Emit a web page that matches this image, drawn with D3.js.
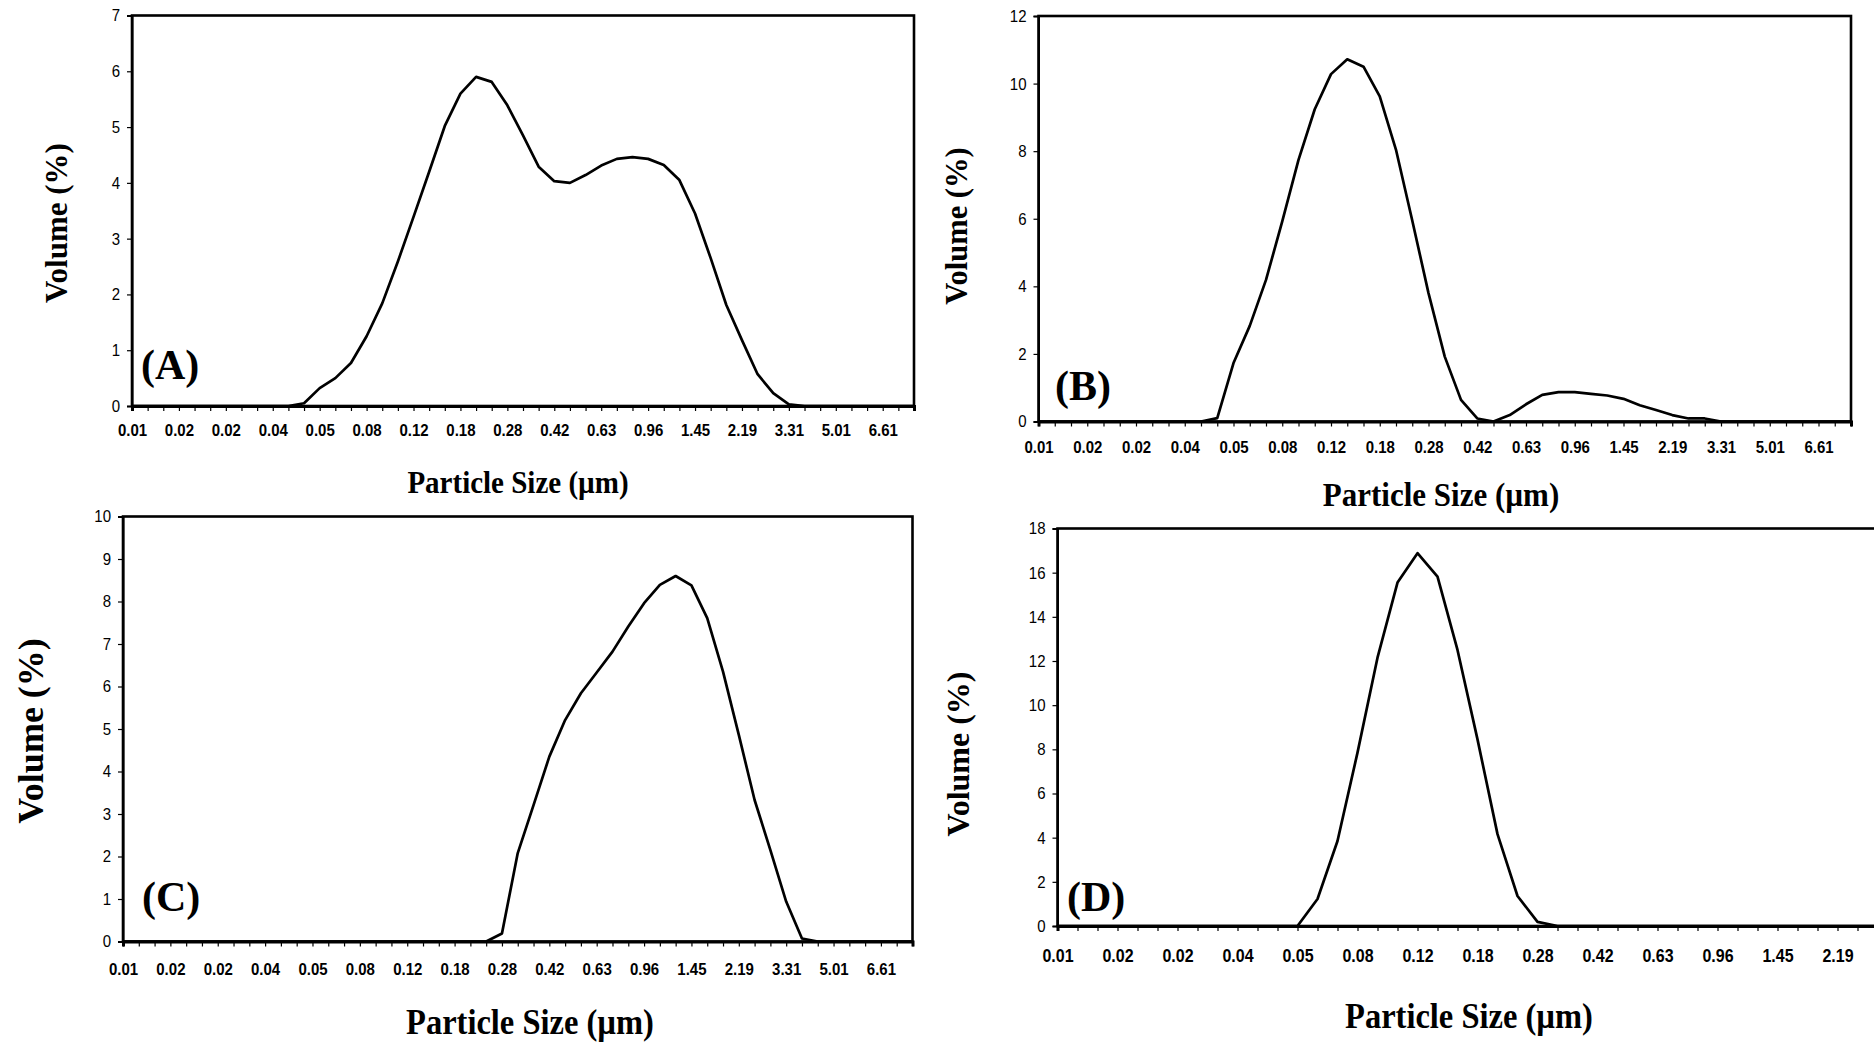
<!DOCTYPE html>
<html>
<head>
<meta charset="utf-8">
<script src="https://cdn.jsdelivr.net/npm/d3@7"></script>
<style>
  html, body { margin: 0; padding: 0; background: #fff; overflow: hidden; }
  .tick text { font-family: "Liberation Sans", Arial, sans-serif; fill: #000; }
  .x-axis .tick text { font-weight: bold; }
  .tick line { stroke: #000; stroke-width: 1.2; }
  .title { font-family: "Liberation Serif", "Times New Roman", serif; font-weight: bold; fill: #000; }
</style>
</head>
<body>
<script>
// labels printed under every third category
const tickLabels = ["0.01", "0.02", "0.02", "0.04", "0.05", "0.08", "0.12", "0.18", "0.28",
                    "0.42", "0.63", "0.96", "1.45", "2.19", "3.31", "5.01", "6.61"];

// volume (%) for each of the 51 size classes
const volumeA = [0, 0, 0, 0, 0, 0, 0, 0, 0, 0, 0,
                 0.05, 0.32, 0.50, 0.77, 1.25, 1.84, 2.59, 3.39, 4.20, 5.02, 5.60, 5.90, 5.81, 5.39, 4.85, 4.29,
                 4.03, 4.00, 4.14, 4.31, 4.43, 4.46, 4.43, 4.32, 4.05, 3.45, 2.65, 1.81, 1.18, 0.57, 0.23, 0.03,
                 0, 0, 0, 0, 0, 0, 0, 0];
const volumeB = [0, 0, 0, 0, 0, 0, 0, 0, 0, 0, 0,
                 0.10, 1.73, 2.83, 4.19, 5.92, 7.74, 9.24, 10.28, 10.72, 10.50, 9.62, 8.04, 5.95, 3.80, 1.92,
                 0.64, 0.09, 0.00, 0.19, 0.51, 0.79, 0.87, 0.87, 0.82, 0.77, 0.67, 0.48, 0.34, 0.19, 0.09, 0.09,
                 0, 0, 0, 0, 0, 0, 0, 0, 0];
const volumeC = [0, 0, 0, 0, 0, 0, 0, 0, 0, 0, 0, 0, 0, 0, 0, 0, 0, 0, 0, 0, 0, 0, 0, 0,
                 0.19, 2.08, 3.21, 4.35, 5.21, 5.84, 6.33, 6.82, 7.41, 7.96, 8.39, 8.60, 8.38, 7.61, 6.35, 4.86,
                 3.33, 2.15, 0.94, 0.07,
                 0, 0, 0, 0, 0, 0, 0];
const volumeD = [0, 0, 0, 0, 0, 0, 0, 0, 0, 0, 0, 0, 0,
                 1.22, 3.85, 7.85, 12.15, 15.55, 16.88, 15.82, 12.50, 8.45, 4.16, 1.36, 0.19,
                 0, 0, 0, 0, 0, 0, 0, 0, 0, 0, 0, 0, 0, 0, 0, 0, 0, 0, 0, 0, 0, 0, 0, 0, 0, 0];

(function() {
    'use strict';

    let width = 1874;
    let height = 1046;

    let panels = [
        { tag: "(A)", values: volumeA, yMax: 7, yStep: 1,
          left: 132, right: 914, top: 15.5, bottom: 406, xFont: 15, xPad: 13.4,
          xTitle: [518, 493, 29], yTitle: [56, 223, 31], tagAt: [141, 379] },
        { tag: "(B)", values: volumeB, yMax: 12, yStep: 2,
          left: 1038.5, right: 1851, top: 16, bottom: 421.5, xFont: 15, xPad: 14.8,
          xTitle: [1441, 506, 31], yTitle: [956, 226, 30.5], tagAt: [1055, 400] },
        { tag: "(C)", values: volumeC, yMax: 10, yStep: 1,
          left: 123, right: 912.5, top: 516.5, bottom: 941.5, xFont: 15, xPad: 16.3,
          xTitle: [530, 1034, 32.5], yTitle: [30, 731, 36], tagAt: [142, 911] },
        // this one is cut off by the right edge of the figure
        { tag: "(D)", values: volumeD, yMax: 18, yStep: 2,
          left: 1057.5, right: 2057.5, top: 528.5, bottom: 926, xFont: 16, xPad: 18.6,
          xTitle: [1469, 1028, 32.5], yTitle: [958, 754, 32], tagAt: [1067, 911] }
    ];

    let svg = d3.select("body").append("svg")
        .attr("width", width)
        .attr("height", height);
    svg.append("rect").attr("width", width).attr("height", height).attr("fill", "#fff");

    // the figure's lettering is a little taller than it is wide
    function condense(sel, size, grow) {
        sel.attr("font-size", size).each(function() {
            let w = this.getComputedTextLength();
            if (!w) return;
            d3.select(this)
                .attr("font-size", size * grow)
                .attr("textLength", w)
                .attr("lengthAdjust", "spacingAndGlyphs");
        });
    }

    function drawPanel(p) {
        let g = svg.append("g");

        let x = d3.scalePoint()
            .domain(d3.range(p.values.length))
            .range([p.left, p.right]);
        let y = d3.scaleLinear()
            .domain([0, p.yMax])
            .range([p.bottom, p.top]);

        // plot frame
        g.append("rect")
            .attr("x", p.left).attr("y", p.top)
            .attr("width", p.right - p.left).attr("height", p.bottom - p.top)
            .attr("fill", "none").attr("stroke", "#000").attr("stroke-width", 2.6);

        let xAxis = d3.axisBottom(x)
            .tickSize(5)
            .tickPadding(p.xPad)
            .tickFormat(function(i) {
                // labels that would fall past the page edge are not in the figure
                if (x(i) > width - 20) return "";
                return i % 3 === 0 ? tickLabels[i / 3] : "";
            });
        let gx = g.append("g")
            .attr("class", "x-axis")
            .attr("transform", "translate(0," + p.bottom + ")")
            .call(xAxis);
        gx.select(".domain").attr("stroke", "#000").attr("stroke-width", 3);
        gx.selectAll(".tick text").filter(function() { return this.textContent === ""; }).remove();
        condense(gx.selectAll(".tick text"), p.xFont, 1.13);

        let yAxis = d3.axisLeft(y)
            .tickValues(d3.range(0, p.yMax + 0.001, p.yStep))
            .tickSize(5)
            .tickPadding(7)
            .tickFormat(d3.format("d"));
        let gy = g.append("g")
            .attr("class", "y-axis")
            .attr("transform", "translate(" + p.left + ",0)")
            .call(yAxis);
        gy.select(".domain").attr("stroke", "#000").attr("stroke-width", 2);
        condense(gy.selectAll(".tick text"), 15, 1.13);

        let line = d3.line()
            .x(function(d, i) { return x(i); })
            .y(function(d) { return y(d); });

        g.append("path")
            .datum(p.values)
            .attr("d", line)
            .attr("fill", "none")
            .attr("stroke", "#000")
            .attr("stroke-width", 2.7)
            .attr("stroke-linejoin", "round");

        g.append("text")
            .attr("class", "title")
            .attr("x", p.tagAt[0]).attr("y", p.tagAt[1])
            .attr("font-size", 42)
            .text(p.tag);

        let xt = g.append("text")
            .attr("class", "title")
            .attr("x", p.xTitle[0]).attr("y", p.xTitle[1])
            .attr("text-anchor", "middle")
            .text("Particle Size (\u00b5m)");
        condense(xt, p.xTitle[2], 1.12);

        g.append("text")
            .attr("class", "title")
            .attr("transform", "translate(" + p.yTitle[0] + "," + p.yTitle[1] + ")rotate(-90)")
            .attr("text-anchor", "middle")
            .attr("dy", "0.35em")
            .attr("font-size", p.yTitle[2])
            .text("Volume (%)");
    }

    panels.forEach(drawPanel);
})();
</script>
</body>
</html>
